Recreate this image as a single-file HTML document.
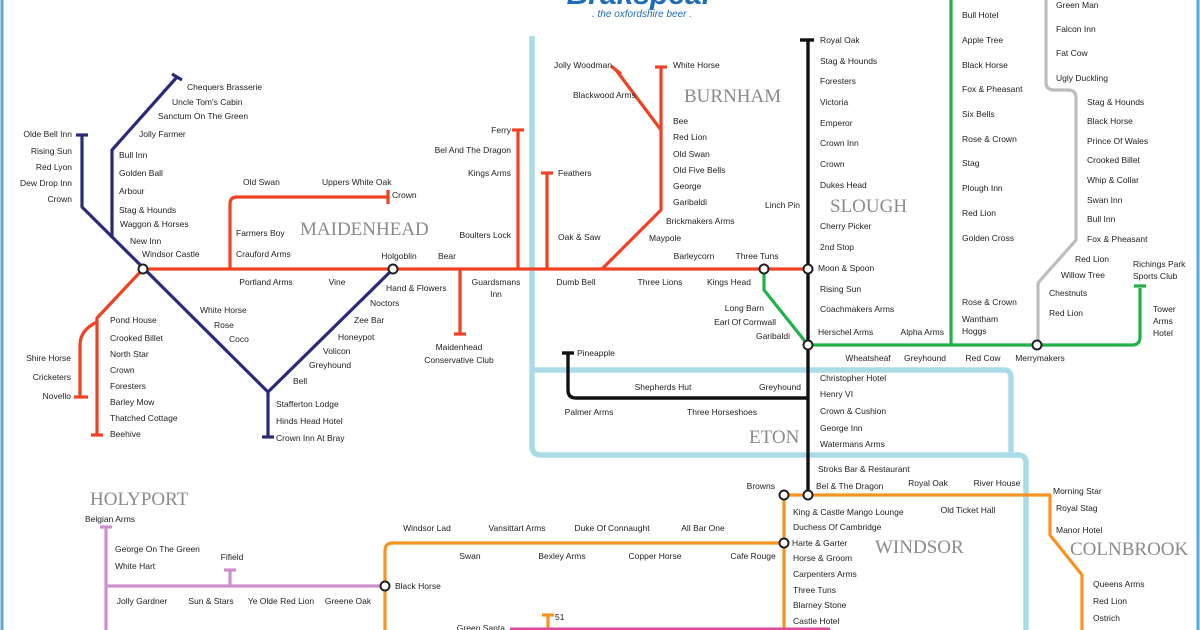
<!DOCTYPE html>
<html><head><meta charset="utf-8"><style>
html,body{margin:0;padding:0;background:#fff;}
svg{display:block;}
.s{font-family:"Liberation Sans",sans-serif;font-size:8.5px;fill:#222;}
.t{font-family:"Liberation Serif",serif;font-size:19px;fill:#8a8a8a;}
.r{text-anchor:end;}
.m{text-anchor:middle;}
</style></head><body>
<svg width="1200" height="630" viewBox="0 0 1200 630" xmlns="http://www.w3.org/2000/svg">
<rect width="1200" height="630" fill="#fff"/>
<line x1="2" y1="0" x2="2" y2="630" stroke="#5aa9d6" stroke-width="3"/>
<line x1="1198" y1="0" x2="1198" y2="630" stroke="#5aa9d6" stroke-width="3"/>
<!-- logo -->
<text x="640" y="4" class="m" style="font-family:'Liberation Sans',sans-serif;font-weight:bold;font-style:italic;font-size:30px;fill:#1f6db5">Brakspear</text>
<text x="642" y="17" class="m" style="font-family:'Liberation Sans',sans-serif;font-style:italic;font-size:10px;fill:#1f6db5">. the oxfordshire beer .</text>

<!-- river -->
<g fill="none" stroke="#aadcE7" stroke-width="5.5">
<path d="M532 36 V446 Q532 455 541 455 H1018 Q1026 455 1026 463 V630"/>
<path d="M532 370 H1004 Q1011 370 1011 378 V452"/>
</g>

<!-- red -->
<g fill="none" stroke="#ef4123" stroke-width="3.2" stroke-linejoin="round">
<path d="M143 269 H808"/>
<path d="M143 269 L97 318 V435"/><path d="M91 435 H103"/>
<path d="M97 322 Q80 330 80 345 V397"/><path d="M74 397 H88"/>
<path d="M230 269 V204 Q230 197 237 197 H388"/><path d="M388 190 V204"/>
<path d="M518 130 V269"/><path d="M512 130 H524"/>
<path d="M547 173 V269"/><path d="M541 173 H553"/>
<path d="M460 269 V334"/><path d="M454 334 H466"/>
<path d="M661 67 V210 L602 269"/><path d="M655 67 H667"/>
<path d="M616 70 L661 130"/><path d="M611 66 L621 74"/>
</g>
<!-- navy -->
<g fill="none" stroke="#2b2a7a" stroke-width="3.2" stroke-linejoin="round">
<path d="M82 135 V207 L268 392 V437"/><path d="M76 135 H88"/><path d="M262 437 H274"/>
<path d="M177 77 L112 150 V238"/><path d="M172 74 L182 80"/>
<path d="M393 269 L268 392"/>
</g>
<!-- black -->
<g fill="none" stroke="#111" stroke-width="3.4">
<path d="M808 40 V495"/><path d="M800 40 H814"/>
<path d="M568 353 V390 Q568 398 576 398 H808"/><path d="M562 353 H574"/>
</g>
<!-- green -->
<g fill="none" stroke="#22b04b" stroke-width="3.2" stroke-linejoin="round">
<path d="M764 269 V290 L808 345"/>
<path d="M808 345 H1132 Q1140 345 1140 337 V288"/><path d="M1134 286 H1146"/>
<path d="M951 0 V345"/>
</g>
<!-- grey -->
<path d="M1046 0 V82 Q1046 90 1054 90 H1068 Q1076 90 1076 98 V240 L1038 283 V345" fill="none" stroke="#bdbdbd" stroke-width="3.2"/>
<!-- orange -->
<g fill="none" stroke="#f7931e" stroke-width="3.2" stroke-linejoin="round">
<path d="M784 495 H1050 V535 L1082 575 V630"/>
<path d="M784 495 V630"/>
<path d="M784 543 H393 Q385 543 385 551 V630"/>
<path d="M548 630 V615"/><path d="M542 615 H554"/>
</g>
<!-- pink -->
<g fill="none" stroke="#cc8fcc" stroke-width="3.2">
<path d="M106 527 V630"/><path d="M100 527 H112"/>
<path d="M106 586 H385"/>
<path d="M230 586 V570"/><path d="M224 570 H236"/>
</g>
<path d="M510 629 H830" stroke="#e2479a" stroke-width="3"/>

<!-- interchanges -->
<g fill="#fff" stroke="#222" stroke-width="2">
<circle cx="143" cy="269" r="4.5"/><circle cx="393" cy="269" r="4.5"/>
<circle cx="764" cy="269" r="4.5"/><circle cx="808" cy="269" r="4.5"/>
<circle cx="808" cy="345" r="4.5"/><circle cx="1037" cy="345" r="4.5"/>
<circle cx="784" cy="495" r="4.5"/><circle cx="808" cy="495" r="4.5"/>
<circle cx="784" cy="543" r="4.5"/><circle cx="385" cy="586" r="4.5"/>
</g>

<!-- towns -->
<text class="t" x="300" y="235">MAIDENHEAD</text>
<text class="t" x="684" y="102">BURNHAM</text>
<text class="t" x="830" y="212">SLOUGH</text>
<text class="t" x="749" y="443">ETON</text>
<text class="t" x="875" y="553">WINDSOR</text>
<text class="t" x="1070" y="555">COLNBROOK</text>
<text class="t" x="90" y="505">HOLYPORT</text>

<!-- navy labels -->
<g class="s">
<text x="187" y="90">Chequers Brasserie</text>
<text x="172" y="105">Uncle Tom's Cabin</text>
<text x="158" y="119">Sanctum On The Green</text>
<text x="139" y="137">Jolly Farmer</text>
<text x="119" y="158">Bull Inn</text>
<text x="119" y="176">Golden Ball</text>
<text x="119" y="194">Arbour</text>
<text x="119" y="213">Stag &amp; Hounds</text>
<text x="120" y="227">Waggon &amp; Horses</text>
<text x="130" y="244">New Inn</text>
<text x="142" y="257">Windsor Castle</text>
<text class="r" x="72" y="137">Olde Bell Inn</text>
<text class="r" x="72" y="154">Rising Sun</text>
<text class="r" x="72" y="170">Red Lyon</text>
<text class="r" x="72" y="186">Dew Drop Inn</text>
<text class="r" x="72" y="202">Crown</text>
<text x="200" y="313">White Horse</text>
<text x="214" y="328">Rose</text>
<text x="229" y="342">Coco</text>
<text x="386" y="291">Hand &amp; Flowers</text>
<text x="370" y="306">Noctors</text>
<text x="354" y="323">Zee Bar</text>
<text x="338" y="340">Honeypot</text>
<text x="323" y="354">Volicon</text>
<text x="309" y="368">Greyhound</text>
<text x="293" y="384">Bell</text>
<text x="276" y="407">Stafferton Lodge</text>
<text x="276" y="424">Hinds Head Hotel</text>
<text x="276" y="441">Crown Inn At Bray</text>
</g>
<!-- red labels -->
<g class="s">
<text x="110" y="323">Pond House</text>
<text x="110" y="341">Crooked Billet</text>
<text x="110" y="357">North Star</text>
<text x="110" y="373">Crown</text>
<text x="110" y="389">Foresters</text>
<text x="110" y="405">Barley Mow</text>
<text x="110" y="421">Thatched Cottage</text>
<text x="110" y="437">Beehive</text>
<text class="r" x="71" y="361">Shire Horse</text>
<text class="r" x="71" y="380">Cricketers</text>
<text class="r" x="71" y="399">Novello</text>
<text x="236" y="236">Farmers Boy</text>
<text x="236" y="257">Crauford Arms</text>
<text x="243" y="185">Old Swan</text>
<text x="322" y="185">Uppers White Oak</text>
<text x="392" y="198">Crown</text>
<text class="m" x="266" y="285">Portland Arms</text>
<text class="m" x="337" y="285">Vine</text>
<text class="m" x="399" y="259">Holgoblin</text>
<text class="m" x="447" y="259">Bear</text>
<text class="m" x="496" y="285">Guardsmans</text>
<text class="m" x="496" y="297">Inn</text>
<text class="r" x="511" y="133">Ferry</text>
<text class="r" x="511" y="153">Bel And The Dragon</text>
<text class="r" x="511" y="176">Kings Arms</text>
<text class="r" x="511" y="238">Boulters Lock</text>
<text x="558" y="176">Feathers</text>
<text x="558" y="240">Oak &amp; Saw</text>
<text class="m" x="459" y="350">Maidenhead</text>
<text class="m" x="459" y="363">Conservative Club</text>
<text class="r" x="612" y="68">Jolly Woodman</text>
<text x="573" y="98">Blackwood Arms</text>
<text x="673" y="68">White Horse</text>
<text x="673" y="124">Bee</text>
<text x="673" y="140">Red Lion</text>
<text x="673" y="157">Old Swan</text>
<text x="673" y="173">Old Five Bells</text>
<text x="673" y="189">George</text>
<text x="673" y="205">Garibaldi</text>
<text x="666" y="224">Brickmakers Arms</text>
<text x="649" y="241">Maypole</text>
<text class="m" x="576" y="285">Dumb Bell</text>
<text class="m" x="660" y="285">Three Lions</text>
<text class="m" x="729" y="285">Kings Head</text>
<text class="m" x="694" y="259">Barleycorn</text>
<text class="m" x="757" y="259">Three Tuns</text>
</g>
<!-- black labels -->
<g class="s">
<text x="820" y="43">Royal Oak</text>
<text x="820" y="64">Stag &amp; Hounds</text>
<text x="820" y="84">Foresters</text>
<text x="820" y="105">Victoria</text>
<text x="820" y="126">Emperor</text>
<text x="820" y="146">Crown Inn</text>
<text x="820" y="167">Crown</text>
<text x="820" y="188">Dukes Head</text>
<text class="r" x="800" y="208">Linch Pin</text>
<text x="820" y="229">Cherry Picker</text>
<text x="820" y="250">2nd Stop</text>
<text x="818" y="271">Moon &amp; Spoon</text>
<text x="820" y="292">Rising Sun</text>
<text x="820" y="312">Coachmakers Arms</text>
<text x="818" y="335">Herschel Arms</text>
<text x="820" y="381">Christopher Hotel</text>
<text x="820" y="397">Henry VI</text>
<text x="820" y="414">Crown &amp; Cushion</text>
<text x="820" y="431">George Inn</text>
<text x="820" y="447">Watermans Arms</text>
<text x="818" y="472">Stroks Bar &amp; Restaurant</text>
<text x="816" y="489">Bel &amp; The Dragon</text>
<text x="577" y="356">Pineapple</text>
<text class="m" x="663" y="390">Shepherds Hut</text>
<text class="m" x="780" y="390">Greyhound</text>
<text class="m" x="589" y="415">Palmer Arms</text>
<text class="m" x="722" y="415">Three Horseshoes</text>
</g>
<!-- green labels -->
<g class="s">
<text x="962" y="18">Bull Hotel</text>
<text x="962" y="43">Apple Tree</text>
<text x="962" y="68">Black Horse</text>
<text x="962" y="92">Fox &amp; Pheasant</text>
<text x="962" y="117">Six Bells</text>
<text x="962" y="142">Rose &amp; Crown</text>
<text x="962" y="166">Stag</text>
<text x="962" y="191">Plough Inn</text>
<text x="962" y="216">Red Lion</text>
<text x="962" y="241">Golden Cross</text>
<text x="962" y="305">Rose &amp; Crown</text>
<text x="962" y="322">Wantham</text>
<text x="962" y="334">Hoggs</text>
<text class="r" x="944" y="335">Alpha Arms</text>
<text class="r" x="764" y="311">Long Barn</text>
<text class="r" x="776" y="325">Earl Of Cornwall</text>
<text class="r" x="790" y="339">Garibaldi</text>
<text class="m" x="868" y="361">Wheatsheaf</text>
<text class="m" x="925" y="361">Greyhound</text>
<text class="m" x="983" y="361">Red Cow</text>
<text class="m" x="1040" y="361">Merrymakers</text>
<text x="1133" y="267">Richings Park</text>
<text x="1133" y="279">Sports Club</text>
<text x="1153" y="312">Tower</text>
<text x="1153" y="324">Arms</text>
<text x="1153" y="336">Hotel</text>
</g>
<!-- grey labels -->
<g class="s">
<text x="1056" y="8">Green Man</text>
<text x="1056" y="32">Falcon Inn</text>
<text x="1056" y="56">Fat Cow</text>
<text x="1056" y="81">Ugly Duckling</text>
<text x="1087" y="105">Stag &amp; Hounds</text>
<text x="1087" y="124">Black Horse</text>
<text x="1087" y="144">Prince Of Wales</text>
<text x="1087" y="163">Crooked Billet</text>
<text x="1087" y="183">Whip &amp; Collar</text>
<text x="1087" y="203">Swan Inn</text>
<text x="1087" y="222">Bull Inn</text>
<text x="1087" y="242">Fox &amp; Pheasant</text>
<text x="1075" y="262">Red Lion</text>
<text x="1061" y="278">Willow Tree</text>
<text x="1049" y="296">Chestnuts</text>
<text x="1049" y="316">Red Lion</text>
</g>
<!-- orange labels -->
<g class="s">
<text class="r" x="775" y="489">Browns</text>
<text class="m" x="928" y="486">Royal Oak</text>
<text class="m" x="997" y="486">River House</text>
<text class="m" x="968" y="513">Old Ticket Hall</text>
<text x="1053" y="494">Morning Star</text>
<text x="1056" y="511">Royal Stag</text>
<text x="1056" y="533">Manor Hotel</text>
<text x="1093" y="587">Queens Arms</text>
<text x="1093" y="604">Red Lion</text>
<text x="1093" y="621">Ostrich</text>
<text x="793" y="515">King &amp; Castle Mango Lounge</text>
<text x="793" y="530">Duchess Of Cambridge</text>
<text x="792" y="546">Harte &amp; Garter</text>
<text x="793" y="561">Horse &amp; Groom</text>
<text x="793" y="577">Carpenters Arms</text>
<text x="793" y="593">Three Tuns</text>
<text x="793" y="608">Blarney Stone</text>
<text x="793" y="624">Castle Hotel</text>
<text class="m" x="427" y="531">Windsor Lad</text>
<text class="m" x="517" y="531">Vansittart Arms</text>
<text class="m" x="612" y="531">Duke Of Connaught</text>
<text class="m" x="703" y="531">All Bar One</text>
<text class="m" x="470" y="559">Swan</text>
<text class="m" x="562" y="559">Bexley Arms</text>
<text class="m" x="655" y="559">Copper Horse</text>
<text class="m" x="753" y="559">Cafe Rouge</text>
<text x="395" y="589">Black Horse</text>
<text x="555" y="620">51</text>
<text class="r" x="505" y="631">Green Santa</text>
</g>
<!-- pink labels -->
<g class="s">
<text class="m" x="110" y="522">Belgian Arms</text>
<text x="115" y="552">George On The Green</text>
<text x="115" y="569">White Hart</text>
<text class="m" x="232" y="560">Fifield</text>
<text class="m" x="142" y="604">Jolly Gardner</text>
<text class="m" x="211" y="604">Sun &amp; Stars</text>
<text class="m" x="281" y="604">Ye Olde Red Lion</text>
<text class="m" x="348" y="604">Greene Oak</text>
</g>
</svg>
</body></html>
